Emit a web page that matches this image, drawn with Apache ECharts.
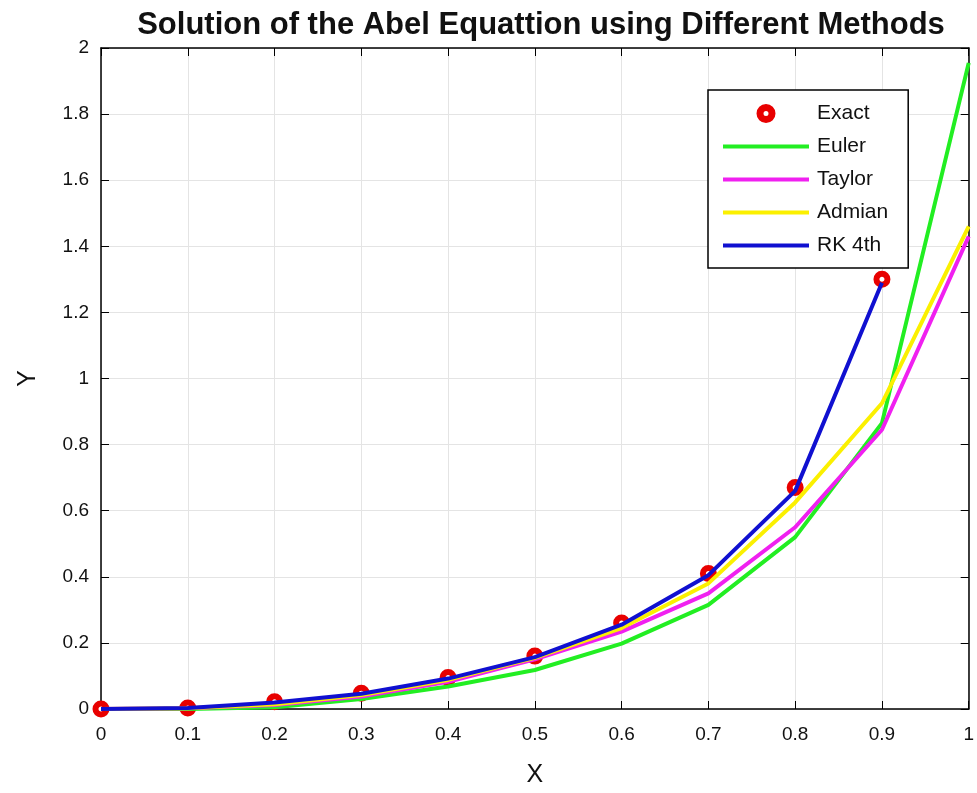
<!DOCTYPE html>
<html style="height: 100%">
<head>
<meta charset="utf-8">
<script src="https://cdn.jsdelivr.net/npm/echarts@6/dist/echarts.min.js"></script>
</head>
<body style="height: 100%; margin: 0; background: #fff">
<div id="container" style="width: 977px; height: 793px"></div>
<script type="text/javascript">
var xData = [0, 0.1, 0.2, 0.3, 0.4, 0.5, 0.6, 0.7, 0.8, 0.9, 1];
var exactY = [0, 0.003, 0.022, 0.048, 0.095, 0.16, 0.26, 0.41, 0.67, 1.30];
var eulerY = [0, 0, 0.005, 0.03, 0.068, 0.118, 0.198, 0.315, 0.52, 0.865, 1.955];
var taylorY = [0, 0.002, 0.012, 0.038, 0.082, 0.15, 0.234, 0.35, 0.55, 0.845, 1.43];
var admianY = [0, 0.002, 0.014, 0.042, 0.088, 0.155, 0.245, 0.38, 0.625, 0.925, 1.46];
var rk4Y = [0, 0.003, 0.02, 0.046, 0.092, 0.157, 0.255, 0.405, 0.66, 1.29];

function pairs(ys) {
	var out = [];
	for (var i = 0; i < ys.length; i++) out.push([xData[i], ys[i]]);
	return out;
}

var font = 'Liberation Sans, Arial, sans-serif';
// thick bar in the middle of a 86x12 box (tiny corner dots keep the box size)
var lineIcon = 'path://M0,0L0.01,0L0,0.01Z M0,4L86,4L86,8L0,8Z M86,12L85.99,12L86,11.99Z';

var myChart = echarts.init(document.getElementById('container'));

var tickLabel = function (v) { return String(Math.round(v * 10) / 10); };

var option = {
	animation: false,
	title: {
		text: 'Solution of the Abel Equattion using Different Methods',
		left: 536,
		textAlign: 'center',
		top: 5,
		textStyle: { fontFamily: font, fontWeight: 'bold', fontSize: 31, color: '#111' }
	},
	legend: {
		orient: 'vertical',
		left: 708,
		top: 90,
		width: 200,
		padding: [13, 20, 12, 15],
		itemWidth: 86,
		itemHeight: 12,
		itemGap: 12,
		backgroundColor: '#fff',
		borderColor: '#000',
		borderWidth: 1.5,
		borderRadius: 0,
		textStyle: { fontFamily: font, fontSize: 21, color: '#111', padding: [0, 0, 0, 3] },
		data: [
			{ name: 'Exact', icon: 'circle', itemStyle: { color: '#fff', borderColor: '#e80000', borderWidth: 7 } },
			{ name: 'Euler', icon: lineIcon },
			{ name: 'Taylor', icon: lineIcon },
			{ name: 'Admian', icon: lineIcon },
			{ name: 'RK 4th', icon: lineIcon }
		]
	},
	grid: { left: 101, right: 4, top: 48, bottom: 84 },
	xAxis: [{
		type: 'value', min: 0, max: 1, interval: 0.1,
		name: 'X', nameLocation: 'middle', nameGap: 54,
		nameTextStyle: { fontFamily: font, fontSize: 25, color: '#111' },
		axisLine: { show: true, onZero: false, lineStyle: { color: '#000', width: 1.5 } },
		axisTick: { show: true, inside: true, length: 8, lineStyle: { color: '#000' } },
		axisLabel: { fontFamily: font, fontSize: 19, color: '#111', margin: 16, formatter: tickLabel },
		splitLine: { lineStyle: { color: '#e4e4e4' } }
	}, {
		type: 'value', min: 0, max: 1, interval: 0.1, position: 'top',
		axisLine: { show: true, onZero: false, lineStyle: { color: '#000', width: 1.5 } },
		axisTick: { show: true, inside: true, length: 8, lineStyle: { color: '#000' } },
		axisLabel: { show: false }, splitLine: { show: false }
	}],
	yAxis: [{
		type: 'value', min: 0, max: 2, interval: 0.2,
		name: 'Y', nameLocation: 'middle', nameGap: 60, nameRotate: 90,
		nameTextStyle: { fontFamily: font, fontSize: 25, color: '#111' },
		axisLine: { show: true, onZero: false, lineStyle: { color: '#000', width: 1.5 } },
		axisTick: { show: true, inside: true, length: 8, lineStyle: { color: '#000' } },
		axisLabel: { fontFamily: font, fontSize: 19, color: '#111', margin: 12, formatter: tickLabel },
		splitLine: { lineStyle: { color: '#e4e4e4' } }
	}, {
		type: 'value', min: 0, max: 2, interval: 0.2, position: 'right',
		axisLine: { show: true, onZero: false, lineStyle: { color: '#000', width: 1.5 } },
		axisTick: { show: true, inside: true, length: 8, lineStyle: { color: '#000' } },
		axisLabel: { show: false }, splitLine: { show: false }
	}],
	series: [{
		name: 'Exact', type: 'scatter', data: pairs(exactY),
		symbol: 'circle', symbolSize: 11,
		itemStyle: { color: '#fff', borderColor: '#e80000', borderWidth: 6, opacity: 1 },
		z: 2
	}, {
		name: 'Euler', type: 'line', data: pairs(eulerY), symbol: 'none',
		lineStyle: { color: '#22ee22', width: 4 }, itemStyle: { color: '#22ee22' }, z: 3
	}, {
		name: 'Taylor', type: 'line', data: pairs(taylorY), symbol: 'none',
		lineStyle: { color: '#f020f0', width: 4 }, itemStyle: { color: '#f020f0' }, z: 4
	}, {
		name: 'Admian', type: 'line', data: pairs(admianY), symbol: 'none',
		lineStyle: { color: '#fbf000', width: 4 }, itemStyle: { color: '#fbf000' }, z: 5
	}, {
		name: 'RK 4th', type: 'line', data: pairs(rk4Y), symbol: 'none',
		lineStyle: { color: '#1010d0', width: 4 }, itemStyle: { color: '#1010d0' }, z: 6
	}]
};

myChart.setOption(option);
</script>
</body>
</html>
